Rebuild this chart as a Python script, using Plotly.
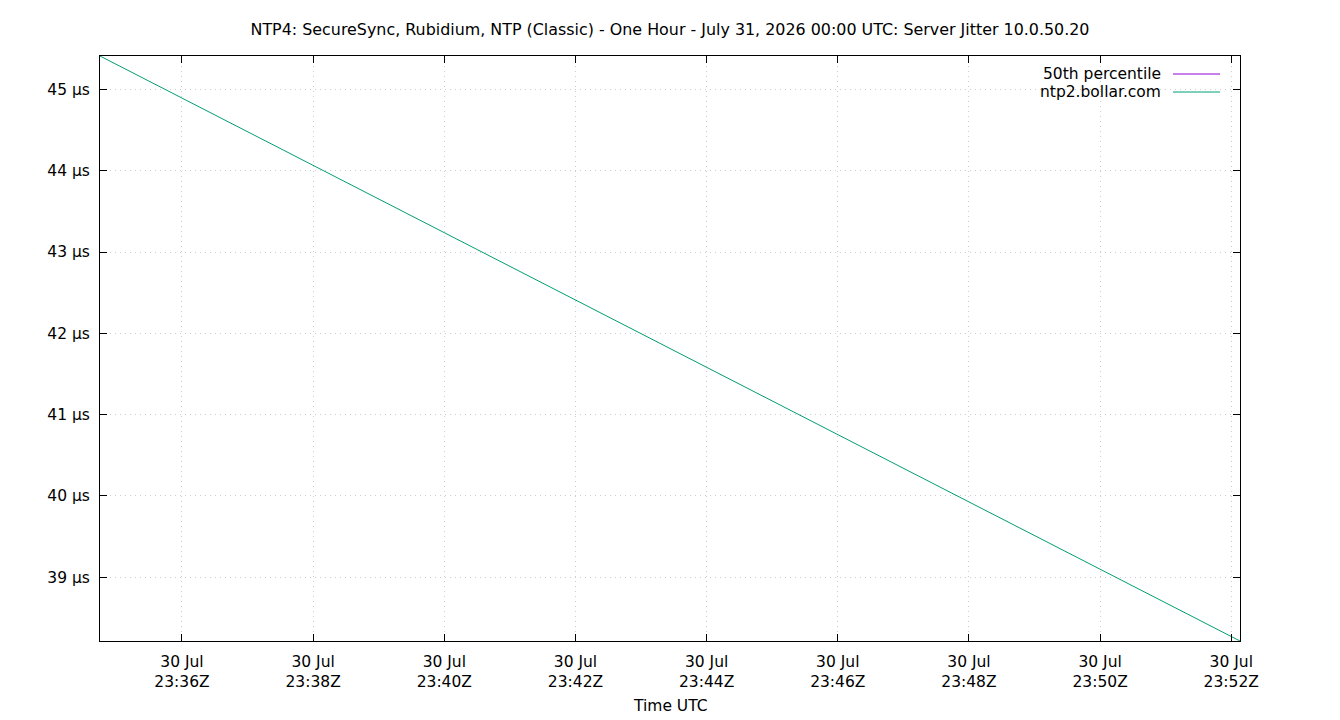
import plotly.graph_objects as go

# Data
times = ["2026-07-30 23:34:45", "2026-07-30 23:52:08"]
jitter_us = [45.41, 38.217]

x_tick_vals = ["2026-07-30 23:36:00", "2026-07-30 23:38:00", "2026-07-30 23:40:00",
               "2026-07-30 23:42:00", "2026-07-30 23:44:00", "2026-07-30 23:46:00",
               "2026-07-30 23:48:00", "2026-07-30 23:50:00", "2026-07-30 23:52:00"]
x_tick_text = ["30 Jul<br>23:36Z", "30 Jul<br>23:38Z", "30 Jul<br>23:40Z",
               "30 Jul<br>23:42Z", "30 Jul<br>23:44Z", "30 Jul<br>23:46Z",
               "30 Jul<br>23:48Z", "30 Jul<br>23:50Z", "30 Jul<br>23:52Z"]
y_tick_vals = [39, 40, 41, 42, 43, 44, 45]
y_tick_text = ["39 µs", "40 µs", "41 µs", "42 µs", "43 µs", "44 µs", "45 µs"]

legend_names = ["50th percentile", "ntp2.bollar.com"]
colors = ["#9400d3", "#009e73"]

W, H = 1340, 720
L, R, T, B = 100, 100, 56, 79
FONT = "DejaVu Sans"
FS = 15.5

fig = go.Figure()
fig.add_trace(go.Scatter(x=times, y=jitter_us, mode="lines", name=legend_names[1],
                         line=dict(color=colors[1], width=1), showlegend=False))

axis_common = dict(
    showline=True, linecolor="black", linewidth=1, mirror="allticks",
    ticks="inside", ticklen=7, tickcolor="black", tickwidth=1,
    showgrid=True, gridcolor="#cccccc", griddash="1px,4px", gridwidth=1,
    zeroline=False, tickfont=dict(family=FONT, size=FS, color="black"),
)

fig.update_xaxes(type="date", range=[times[0], times[1]],
                 tickvals=x_tick_vals, ticktext=x_tick_text,
                 ticklabelstandoff=6, **axis_common)
fig.update_yaxes(range=[38.217, 45.41], tickvals=y_tick_vals, ticktext=y_tick_text,
                 ticklabelstandoff=6, **axis_common)

# legend drawn gnuplot-style: text right-aligned, sample line on the right
annotations = []
shapes = []
for i, (name, col) in enumerate(zip(legend_names, colors)):
    ypix = 74 + i * 18
    yp = 1 - (ypix - T) / (H - T - B)
    annotations.append(dict(x=(1163 - L) / (W - L - R), y=yp, xref="paper", yref="paper",
                            text=name, showarrow=False, xanchor="right", yanchor="middle",
                            font=dict(family=FONT, size=FS, color="black")))
    shapes.append(dict(type="line", xref="paper", yref="paper",
                       x0=(1173 - L) / (W - L - R), x1=(1220 - L) / (W - L - R),
                       y0=yp, y1=yp, line=dict(color=col, width=1)))

annotations.append(dict(x=0.5, y=-(706 - (H - B)) / (H - T - B), xref="paper", yref="paper",
                        text="Time UTC", showarrow=False, xanchor="center", yanchor="middle",
                        font=dict(family=FONT, size=FS, color="black")))

fig.update_layout(
    width=W, height=H,
    margin=dict(l=L, r=R, t=T, b=B),
    paper_bgcolor="white", plot_bgcolor="white",
    title=dict(text="NTP4: SecureSync, Rubidium, NTP (Classic) - One Hour - July 31, 2026 00:00 UTC: Server Jitter 10.0.50.20",
               x=0.5, xanchor="center", y=1 - 29 / H, yanchor="middle", yref="container",
               font=dict(family=FONT, size=15.9, color="black")),
    annotations=annotations, shapes=shapes,
    showlegend=False,
)

fig.write_html("out.html")
